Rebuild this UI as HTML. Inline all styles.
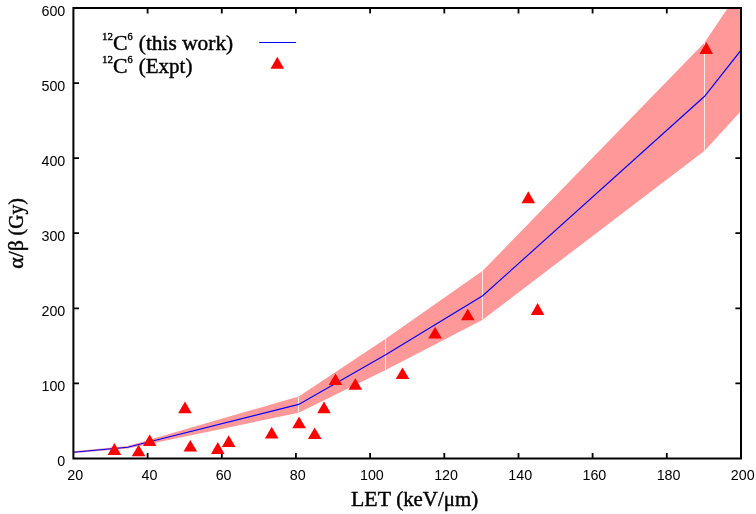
<!DOCTYPE html>
<html><head><meta charset="utf-8"><title>plot</title>
<style>
html,body{margin:0;padding:0;background:#fff;}
svg{display:block;will-change:transform;}
.t{font-family:"Liberation Sans",sans-serif;font-size:14.3px;fill:#000;}
.s{font-family:"Liberation Serif",serif;fill:#000;stroke:#000;stroke-width:0.4px;}
</style></head><body>
<svg width="756" height="514" viewBox="0 0 756 514">
<rect width="756" height="514" fill="#fff"/>
<defs><clipPath id="c"><rect x="73.4" y="8.0" width="667.6" height="450.5"/></clipPath></defs>
<g stroke="#000" stroke-width="1.8" fill="none">
<path d="M147.6,458.5v-5.6M147.6,8.0v5.6M221.8,458.5v-5.6M221.8,8.0v5.6M295.9,458.5v-5.6M295.9,8.0v5.6M370.1,458.5v-5.6M370.1,8.0v5.6M444.3,458.5v-5.6M444.3,8.0v5.6M518.5,458.5v-5.6M518.5,8.0v5.6M592.6,458.5v-5.6M592.6,8.0v5.6M666.8,458.5v-5.6M666.8,8.0v5.6M73.4,383.4h5.6M741.0,383.4h-5.6M73.4,308.3h5.6M741.0,308.3h-5.6M73.4,233.2h5.6M741.0,233.2h-5.6M73.4,158.2h5.6M741.0,158.2h-5.6M73.4,83.1h5.6M741.0,83.1h-5.6"/>
</g>
<g clip-path="url(#c)">
<polygon points="73.4,451.3 127.7,446.0 298.7,396.5 385.7,338.7 482.7,270.8 704.6,42.5 741.0,-11.8 741.0,110.9 704.6,150.8 482.7,319.7 385.7,370.0 298.7,412.8 127.7,448.4 73.4,453.3" fill="#ff9999"/>
<line x1="298.5" y1="396.8" x2="298.5" y2="412.5" stroke="#ffe8e8" stroke-width="1"/>
<line x1="385.5" y1="339.0" x2="385.5" y2="369.7" stroke="#ffe8e8" stroke-width="1"/>
<line x1="482.5" y1="271.1" x2="482.5" y2="319.4" stroke="#ffe8e8" stroke-width="1"/>
<line x1="704.5" y1="42.8" x2="704.5" y2="150.5" stroke="#ffe8e8" stroke-width="1"/>
<polyline points="73.4,452.3 127.7,447.2 298.7,404.4 385.7,354.7 482.7,295.8 704.6,96.3 741.0,50.2" fill="none" stroke="#0000ff" stroke-width="1.15"/>
</g>
<rect x="73.4" y="8.0" width="667.6" height="450.5" stroke="#000" stroke-width="2" fill="none"/>
<line x1="259.2" y1="42.5" x2="296.1" y2="42.5" stroke="#0000ff" stroke-width="1"/>
<polygon points="114.4,442.9 107.6,454.9 121.2,454.9" fill="#ff0000"/>
<polygon points="138.6,444.8 131.8,456.2 145.4,456.2" fill="#ff0000"/>
<polygon points="149.7,434.6 142.9,446.0 156.5,446.0" fill="#ff0000"/>
<polygon points="185.0,401.6 178.2,413.2 191.8,413.2" fill="#ff0000"/>
<polygon points="190.3,439.9 183.5,451.5 197.1,451.5" fill="#ff0000"/>
<polygon points="217.8,442.1 211.0,453.9 224.6,453.9" fill="#ff0000"/>
<polygon points="228.7,435.2 221.9,446.9 235.5,446.9" fill="#ff0000"/>
<polygon points="271.7,426.7 264.9,438.5 278.5,438.5" fill="#ff0000"/>
<polygon points="299.1,416.4 292.3,428.2 305.9,428.2" fill="#ff0000"/>
<polygon points="314.7,427.6 307.9,439.1 321.5,439.1" fill="#ff0000"/>
<polygon points="324.0,401.6 317.2,413.3 330.8,413.3" fill="#ff0000"/>
<polygon points="335.5,373.6 328.7,384.9 342.3,384.9" fill="#ff0000"/>
<polygon points="355.3,378.2 348.5,389.7 362.1,389.7" fill="#ff0000"/>
<polygon points="402.5,367.4 395.7,378.9 409.3,378.9" fill="#ff0000"/>
<polygon points="467.8,308.8 461.0,320.3 474.6,320.3" fill="#ff0000"/>
<polygon points="435.1,326.7 428.3,338.5 441.9,338.5" fill="#ff0000"/>
<polygon points="537.6,303.0 530.8,315.0 544.4,315.0" fill="#ff0000"/>
<polygon points="528.3,191.3 521.5,203.2 535.1,203.2" fill="#ff0000"/>
<polygon points="706.3,41.9 699.5,53.9 713.1,53.9" fill="#ff0000"/>
<polygon points="277.3,56.8 270.5,68.8 284.1,68.8" fill="#ff0000"/>
<text class="t" x="65.3" y="466.2" text-anchor="end">0</text>
<text class="t" x="65.3" y="391.1" text-anchor="end">100</text>
<text class="t" x="65.3" y="316.0" text-anchor="end">200</text>
<text class="t" x="65.3" y="240.9" text-anchor="end">300</text>
<text class="t" x="65.3" y="165.9" text-anchor="end">400</text>
<text class="t" x="65.3" y="90.8" text-anchor="end">500</text>
<text class="t" x="65.3" y="15.7" text-anchor="end">600</text>
<text class="t" x="75.2" y="480.2" text-anchor="middle">20</text>
<text class="t" x="149.4" y="480.2" text-anchor="middle">40</text>
<text class="t" x="223.6" y="480.2" text-anchor="middle">60</text>
<text class="t" x="297.7" y="480.2" text-anchor="middle">80</text>
<text class="t" x="371.9" y="480.2" text-anchor="middle">100</text>
<text class="t" x="446.1" y="480.2" text-anchor="middle">120</text>
<text class="t" x="520.3" y="480.2" text-anchor="middle">140</text>
<text class="t" x="594.4" y="480.2" text-anchor="middle">160</text>
<text class="t" x="668.6" y="480.2" text-anchor="middle">180</text>
<text class="t" x="742.8" y="480.2" text-anchor="middle">200</text>
<text class="s" font-size="10.2" x="102.0" y="39.5" textLength="10.9" lengthAdjust="spacingAndGlyphs">12</text>
<text class="s" font-size="20" x="112.9" y="50.0" textLength="14.5" lengthAdjust="spacingAndGlyphs">C</text>
<text class="s" font-size="10.2" x="127.6" y="39.5" textLength="5.1" lengthAdjust="spacingAndGlyphs">6</text>
<text class="s" font-size="20" x="138.8" y="50.0" textLength="94.4" lengthAdjust="spacingAndGlyphs">(this work)</text>
<text class="s" font-size="10.2" x="102.0" y="62.9" textLength="10.9" lengthAdjust="spacingAndGlyphs">12</text>
<text class="s" font-size="20" x="112.9" y="73.4" textLength="14.5" lengthAdjust="spacingAndGlyphs">C</text>
<text class="s" font-size="10.2" x="127.6" y="62.9" textLength="5.1" lengthAdjust="spacingAndGlyphs">6</text>
<text class="s" font-size="20" x="138.8" y="73.4" textLength="53.6" lengthAdjust="spacingAndGlyphs">(Expt)</text>
<text class="s" font-size="20" x="351.0" y="505.6" textLength="40" lengthAdjust="spacingAndGlyphs">LET</text>
<text class="s" font-size="20" x="396.2" y="505.6" textLength="81.9" lengthAdjust="spacingAndGlyphs">(keV/μm)</text>
<g transform="translate(22.7,268.8) rotate(-90)"><text class="s" font-size="20" x="0" y="0" textLength="28.6" lengthAdjust="spacingAndGlyphs">α/β</text><text class="s" font-size="20" x="33.4" y="0" textLength="37.2" lengthAdjust="spacingAndGlyphs">(Gy)</text></g>
</svg>
</body></html>
